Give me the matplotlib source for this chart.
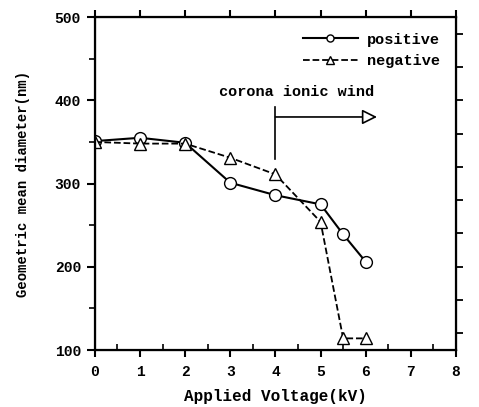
import matplotlib
matplotlib.use("Agg")
import matplotlib.pyplot as plt
from matplotlib.ticker import MultipleLocator

# data
voltage = [0, 1, 2, 3, 4, 5, 5.5, 6]
positive = [351, 355, 349, 301, 286, 275, 239, 206]
negative = [350, 348, 348, 331, 311, 254, 114, 114]

plt.rcParams['font.family'] = ['Liberation Mono', 'DejaVu Sans Mono']
plt.rcParams['font.weight'] = 'bold'

fig = plt.figure(figsize=(4.79, 4.07), dpi=100)
ax = fig.add_axes([0.198, 0.140, 0.754, 0.818])

ax.plot(voltage, positive, '-', color='black', lw=1.5, marker='o',
        ms=8.5, mfc='white', mec='black', mew=1.0, label='positive')
ax.plot(voltage, negative, '--', color='black', lw=1.3, marker='^',
        ms=8.5, mfc='white', mec='black', mew=1.0, label='negative')

ax.set_xlim(0, 8)
ax.set_ylim(100, 500)
ax.xaxis.set_major_locator(MultipleLocator(1))
ax.xaxis.set_minor_locator(MultipleLocator(0.5))
ax.yaxis.set_major_locator(MultipleLocator(100))
ax.yaxis.set_minor_locator(MultipleLocator(50))
ax.tick_params(axis='x', which='major', direction='out', length=5, width=1.5,
               top=True, labelsize=10.5, pad=6)
ax.tick_params(axis='x', which='minor', direction='in', length=4, width=1.2,
               top=False)
ax.tick_params(axis='y', which='major', direction='out', length=6, width=1.5,
               labelsize=10.5, pad=4)
ax.tick_params(axis='y', which='minor', direction='out', length=4, width=1.2)
for s in ax.spines.values():
    s.set_linewidth(1.6)

# right-hand ticks on a different spacing
ax2 = ax.twinx()
ax2.set_ylim(100, 500)
ax2.yaxis.set_major_locator(MultipleLocator(40))
ax2.tick_params(axis='y', direction='out', length=5, width=1.3, labelright=False)

ax.set_xlabel('Applied Voltage(kV)', fontsize=11.5, fontweight='bold', labelpad=7)
ax.set_ylabel('Geometric mean diameter(nm)', fontsize=10, fontweight='bold',
              labelpad=18)

# corona ionic wind annotation
ax.plot([4, 4], [329, 392], color='black', lw=1.2)
ax.annotate('', xy=(6.25, 380), xytext=(4, 380),
            arrowprops=dict(arrowstyle='-|>,head_length=0.9,head_width=0.45',
                            lw=1.2, fc='white', ec='black', shrinkA=0, shrinkB=0))
ax.text(4.46, 402, 'corona ionic wind', ha='center', va='bottom', fontsize=11,
        fontweight='bold')

ax.legend(loc='upper right', frameon=False, fontsize=11, handlelength=3.6,
          markerscale=0.6, bbox_to_anchor=(0.985, 0.985), borderaxespad=0.3,
          labelspacing=0.5, handletextpad=0.6)

fig.savefig('out.png', dpi=100)
